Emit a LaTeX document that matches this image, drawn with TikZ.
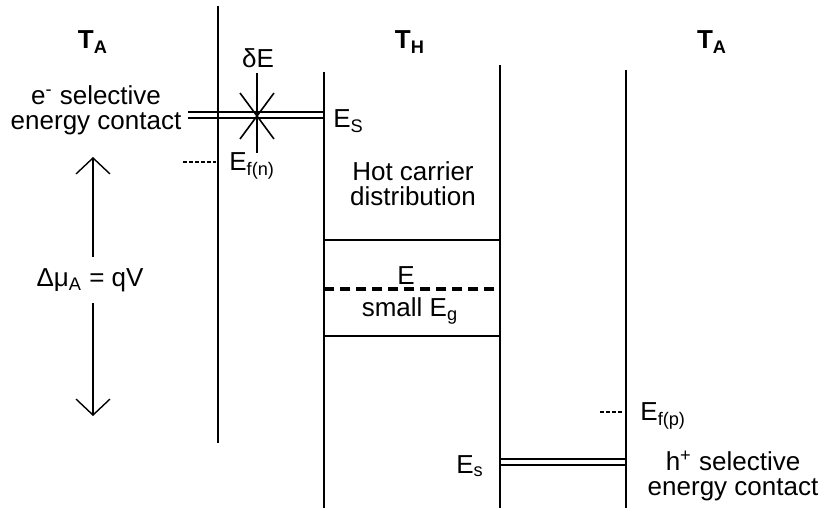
\documentclass[tikz,border=0pt]{standalone}
\usepackage{fontspec}
\setmainfont{Liberation Sans}
\usetikzlibrary{arrows.meta}
\begin{document}
\begin{tikzpicture}[x=0.5pt,y=-0.5pt,
  font=\fontsize{13}{13}\selectfont,
  wall/.style={line width=1pt},
  thinline/.style={line width=0.8pt},
  fermi/.style={line width=0.8pt, dash pattern=on 2pt off 1pt},
  midlevel/.style={line width=1.6pt, dash pattern=on 5pt off 3pt},
  lbl/.style={inner sep=0pt, align=center},
  twoline/.style={inner sep=0pt, align=center, font=\fontsize{13}{12.5}\selectfont},
  varrow/.style={line width=0.7pt, -{Straight Barb[length=8pt,width=17pt]}},
]
\useasboundingbox (0,0) rectangle (828,508);
% coordinates
\coordinate (Lt) at (218,6);   \coordinate (Lb) at (218,443);
\coordinate (Mlt) at (324,72); \coordinate (Mlb) at (324,508);
\coordinate (Mrt) at (500,65); \coordinate (Mrb) at (500,508);
\coordinate (Rt) at (626,70);  \coordinate (Rb) at (626,508);
% walls
\draw[wall] (Lt) -- (Lb);
\draw[wall] (Mlt) -- (Mlb);
\draw[wall] (Mrt) -- (Mrb);
\draw[line width=1.3pt] (Rt) -- (Rb);
% top double contact
\coordinate (c1a) at (188,112); \coordinate (c1b) at (324,112);
\coordinate (c2a) at (188,118); \coordinate (c2b) at (324,118);
\draw[line width=1.1pt] (c1a) -- (c1b);
\draw[line width=1.1pt] (c2a) -- (c2b);
% star
\coordinate (st1) at (257,73);  \coordinate (st2) at (257,153);
\coordinate (sd1) at (240,93);  \coordinate (sd2) at (274,139);
\coordinate (sd3) at (274,93);  \coordinate (sd4) at (240,139);
\draw[line width=1.2pt] (st1) -- (st2);
\draw[thinline] (sd1) -- (sd2);
\draw[thinline] (sd3) -- (sd4);
% Ef(n)
\coordinate (fn1) at (183,162); \coordinate (fn2) at (216,162);
\draw[fermi] (fn1) -- (fn2);
% middle levels
\coordinate (m1a) at (324,240); \coordinate (m1b) at (500,240);
\coordinate (m2a) at (324,289); \coordinate (m2b) at (500,289);
\coordinate (m3a) at (324,336); \coordinate (m3b) at (500,336);
\draw[thinline] (m1a) -- (m1b);
\draw[midlevel] (m2a) -- (m2b);
\draw[thinline] (m3a) -- (m3b);
% bottom double contact
\coordinate (b1a) at (500,459); \coordinate (b1b) at (626,459);
\coordinate (b2a) at (500,465); \coordinate (b2b) at (626,465);
\draw[line width=1.1pt] (b1a) -- (b1b);
\draw[line width=1.1pt] (b2a) -- (b2b);
% Ef(p)
\coordinate (fp1) at (600,412); \coordinate (fp2) at (624,412);
\draw[fermi] (fp1) -- (fp2);
% voltage arrow
\node[lbl] (dmu) at (90,280) {Δμ\textsubscript{A} = qV};
\coordinate (atop) at (93,157); \coordinate (abot) at (93,416);
\coordinate (ag1) at (93,257);  \coordinate (ag2) at (93,303);
\draw[varrow] (ag1) -- (atop);
\draw[varrow] (ag2) -- (abot);
% labels
\node[lbl] (TA1) at (93,42) {\textbf{T\textsubscript{A}}};
\node[lbl] (TH) at (410,42) {\textbf{T\textsubscript{H}}};
\node[lbl] (TA2) at (712,42) {\textbf{T\textsubscript{A}}};
\node[twoline] (econ) at (96,110) {e\textsuperscript{-} selective\\energy contact};
\node[lbl] (dE) at (258,58) {δE};
\node[lbl, anchor=west] (ES) at (333,121) {E\textsubscript{S}};
\node[lbl, anchor=west] (Efn) at (229,166) {E\textsubscript{f(n)}};
\node[twoline] (hot) at (413,184) {Hot carrier\\distribution};
\node[lbl] (Emid) at (406,276) {E};
\node[lbl] (Eg) at (410,311) {small E\textsubscript{g}};
\node[lbl] (Es2) at (470,466) {E\textsubscript{s}};
\node[lbl, anchor=west] (Efp) at (640,416) {E\textsubscript{f(p)}};
\node[twoline] (hcon) at (733,476) {h\textsuperscript{+} selective\\energy contact};
\end{tikzpicture}
\end{document}
